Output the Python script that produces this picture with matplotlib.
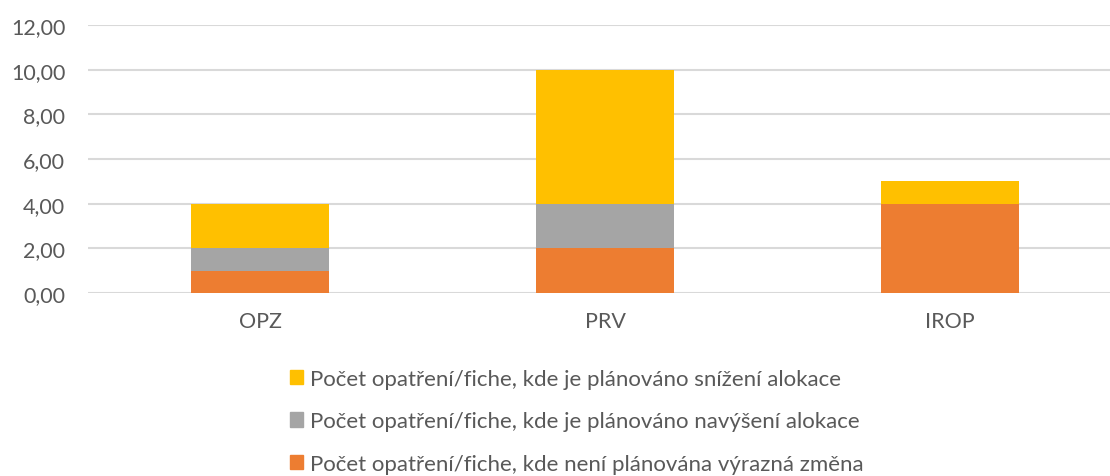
import numpy as np
import matplotlib.pyplot as plt
from matplotlib.patches import Patch

plt.rcParams['font.family'] = ['Lato', 'DejaVu Sans']

# data
categories = ['OPZ', 'PRV', 'IROP']
bez_zmeny = [1, 2, 4]      # orange
navyseni = [1, 2, 0]       # gray
snizeni = [2, 6, 1]        # yellow

labels = ['Počet opatření/fiche, kde je plánováno snížení alokace',
          'Počet opatření/fiche, kde je plánováno navýšení alokace',
          'Počet opatření/fiche, kde není plánována výrazná změna']
colors = ['#FFC000', '#A5A5A5', '#ED7D31']
text_col = '#595959'

fig = plt.figure(figsize=(11.10, 4.77), dpi=100)
ax = fig.add_axes([87.5 / 1110, 183 / 477, 1035 / 1110, 268 / 477])

x = np.arange(len(categories))
w = 0.4
b1 = np.array(bez_zmeny)
b2 = b1 + np.array(navyseni)
ax.bar(x, bez_zmeny, w, color=colors[2], zorder=3)
ax.bar(x, navyseni, w, bottom=b1, color=colors[1], zorder=3)
ax.bar(x, snizeni, w, bottom=b2, color=colors[0], zorder=3)

ax.set_xlim(-0.5, 2.5)
ax.set_ylim(0, 12)
ax.set_yticks(np.arange(0, 13, 2))
ax.set_yticklabels([f'{v:.2f}'.replace('.', ',') for v in np.arange(0, 13, 2)])
ax.set_xticks(x)
ax.set_xticklabels(categories)
ax.tick_params(length=0, labelsize=15.5, colors=text_col)
ax.tick_params(axis='x', pad=13)
ax.tick_params(axis='y', pad=16)
ax.grid(axis='y', color='#D9D9D9', linewidth=1.5, zorder=0)
for s in ax.spines.values():
    s.set_visible(False)

handles = [Patch(color=c) for c in colors]
fig.legend(handles, labels, loc='upper left', bbox_to_anchor=(279 / 1110, 1 - 359 / 477),
           frameon=False, fontsize=16, labelcolor=text_col, handlelength=0.6,
           handleheight=0.6, handletextpad=0.3, labelspacing=1.0, borderpad=0)

plt.savefig('out.png', dpi=100)
